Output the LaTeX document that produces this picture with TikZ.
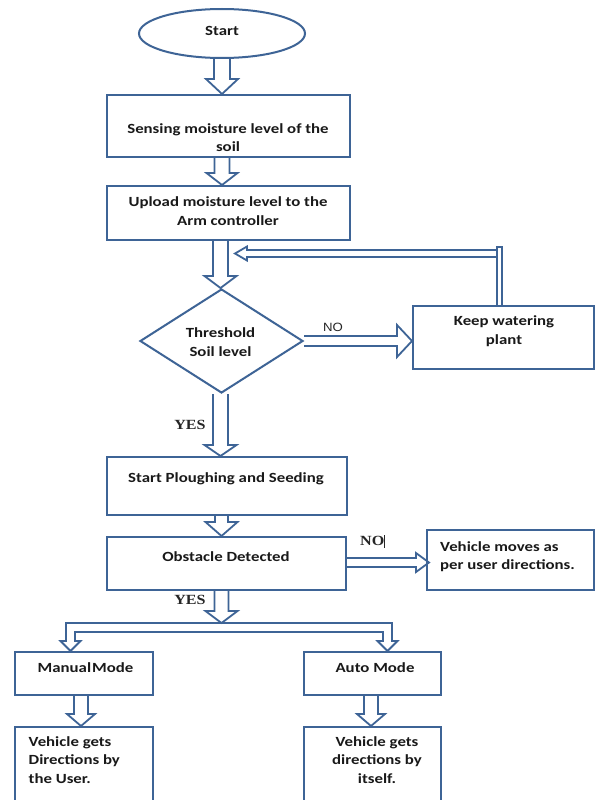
\documentclass[tikz,border=0pt]{standalone}
\usepackage{fontspec}
\setmainfont{Carlito}[FakeStretch=1.2]
\newfontfamily\serifb{Liberation Serif}[FakeStretch=1.15]
\newfontfamily\arialf{Liberation Sans}[FakeStretch=1.1]
\usetikzlibrary{shapes.geometric,calc}
\definecolor{lineblue}{RGB}{62,100,150}
\tikzset{
  box/.style={draw=lineblue, line width=2pt, rectangle, inner sep=0pt},
  txt/.style={font=\fontsize{14}{18.5}\selectfont\bfseries, inner sep=0pt, align=center, text=black!90},
  lbl/.style={font=\serifb\fontsize{14}{16}\selectfont\bfseries, inner sep=0pt, text=black!85},
  blk/.style={draw=lineblue, line width=1.8pt, line join=miter}
}
\newcommand\vblk[5]{%
  \draw[blk] let \p1=(#1), \p2=(#2) in
    (\x1-#3,\y1) -- (\x1-#3,\y2+#5) -- (\x1-#4,\y2+#5) -- (\x1,\y2)
    -- (\x1+#4,\y2+#5) -- (\x1+#3,\y2+#5) -- (\x1+#3,\y1);}
\newcommand\hblk[5]{%
  \draw[blk] let \p1=(#1), \p2=(#2) in
    (\x1,\y1+#3) -- (\x2-#5,\y1+#3) -- (\x2-#5,\y1+#4) -- (\x2,\y1)
    -- (\x2-#5,\y1-#4) -- (\x2-#5,\y1-#3) -- (\x1,\y1-#3);}
\begin{document}
\begin{tikzpicture}[x=1pt,y=-1pt]
\fill[white] (0,0) rectangle (596,800);
\useasboundingbox (0,0) rectangle (596,800);

% shapes
\node[draw=lineblue, line width=2pt, ellipse, minimum width=166pt, minimum height=49pt, inner sep=0pt] (start) at (222,33.5) {};
\node[box, minimum width=243pt, minimum height=62pt] (s1) at (228.5,126) {};
\node[box, minimum width=243pt, minimum height=54pt] (s2) at (228.5,213) {};
\node[draw=lineblue, line width=2pt, diamond, minimum width=163pt, minimum height=104pt, inner sep=0pt] (dia) at (221.5,341) {};
\node[box, minimum width=181pt, minimum height=63pt] (keep) at (503.5,337.5) {};
\node[box, minimum width=240pt, minimum height=58pt] (plough) at (227,486) {};
\node[box, minimum width=239pt, minimum height=53pt] (obst) at (226.5,563.5) {};
\node[box, minimum width=167pt, minimum height=60pt] (vmove) at (510.5,560) {};
\node[box, minimum width=138pt, minimum height=43pt] (manual) at (84,673.5) {};
\node[box, minimum width=137pt, minimum height=43pt] (auto) at (372.5,673.5) {};
\node[box, minimum width=138pt, minimum height=80pt] (vg1) at (84,767) {};
\node[box, minimum width=137pt, minimum height=80pt] (vg2) at (372.5,767) {};

% texts
\node[txt] (tstart) at (222,31) {Start};
\node[txt] (t1) at (228,137.5) {Sensing moisture level of the\\soil};
\node[txt] (t2) at (228,211) {Upload moisture level to the\\Arm controller};
\node[txt] (t3) at (220.5,342) {Threshold\\Soil level};
\node[txt] (t4) at (504,331) {Keep watering\\plant};
\node[txt] (t5) at (226,479) {Start Ploughing and Seeding};
\node[txt] (t6) at (226,557) {Obstacle Detected};
\node[txt, anchor=west, align=left] (t7) at (440,556.5) {Vehicle moves as\\per user directions.};
\node[txt] (t8) at (85.5,668) {Manual\hspace{1pt}Mode};
\node[txt] (t9) at (375,668) {Auto Mode};
\node[txt, anchor=west, align=left] (t10) at (28.5,760) {Vehicle gets\\Directions by\\the User.};
\node[txt] (t11) at (377,760) {Vehicle gets\\directions by\\itself.};

% labels
\node[font=\arialf\fontsize{12}{14}\selectfont, inner sep=0pt, text=black!85] (no1) at (333,327) {NO};
\node[lbl] (yes1) at (190,425) {YES};
\node[lbl, anchor=west] (no2) at (360,541) {NO\rule[-2pt]{0.7pt}{13pt}};
\node[lbl] (yes2) at (190,600) {YES};

% block arrows
\vblk{$(start.south)+(0,-1)$}{s1.north}{8pt}{16pt}{15pt}
\vblk{$(s1.south)+(-6.5,0)$}{s2.north}{7.5pt}{15.5pt}{12pt}
\vblk{$(s2.south)+(-8,0)$}{dia.north}{7.5pt}{16pt}{12pt}
\hblk{dia.east}{keep.west}{5pt}{16pt}{15pt}
\vblk{$(dia.south)+(-1,0)$}{plough.north}{7.5pt}{16pt}{11pt}
\vblk{$(plough.south)+(-5.5,0)$}{obst.north}{6.5pt}{16pt}{14pt}
\hblk{$(obst.east)+(0,-1)$}{$(vmove.west)+(3,0)$}{4.5pt}{9.5pt}{13pt}

% feedback loop
\coordinate (fbt) at (235,253.5);
\draw[blk] let \p1=($(keep.north)+(-4,0)$), \p2=(fbt) in
  (\x1-2.5pt,\y2+3.5pt) -- (\x2+12pt,\y2+3.5pt) -- (\x2+12pt,\y2+7pt) -- (\x2,\y2)
  -- (\x2+12pt,\y2-7pt) -- (\x2+12pt,\y2-3.5pt) -- (\x1-2.5pt,\y2-3.5pt);
\draw[blk] let \p1=($(keep.north)+(-4,0)$), \p2=(fbt) in
  (\x1-2.5pt,\y1) -- (\x1-2.5pt,\y2+6.5pt) -- (\x1+2.5pt,\y2+6.5pt) -- (\x1+2.5pt,\y1);

% branch to modes
\coordinate (bar) at (221.5,623);
\coordinate (brL) at (70.5,623);
\coordinate (brR) at (387.5,623);
\vblk{$(obst.south)+(-5,0)$}{bar}{7pt}{16pt}{12pt}
\draw[blk] let \p1=(brL), \p2=(brR), \p3=(manual.north) in
  (\x1-4.5pt,\y1) -- (\x2+4.5pt,\y1) -- (\x2+4.5pt,\y3+10pt) -- (\x2+10pt,\y3+10pt)
  -- (\x2,\y3) -- (\x2-10pt,\y3+10pt) -- (\x2-4.5pt,\y3+10pt) -- (\x2-4.5pt,\y1-9pt)
  -- (\x1+4.5pt,\y1-9pt) -- (\x1+4.5pt,\y3+10pt) -- (\x1+10pt,\y3+10pt) -- (\x1,\y3)
  -- (\x1-10pt,\y3+10pt) -- (\x1-4.5pt,\y3+10pt) -- cycle;

\vblk{$(manual.south)+(-3,0)$}{vg1.north}{7pt}{14pt}{12pt}
\vblk{$(auto.south)+(-1.5,0)$}{vg2.north}{7pt}{14pt}{12pt}
\end{tikzpicture}
\end{document}
